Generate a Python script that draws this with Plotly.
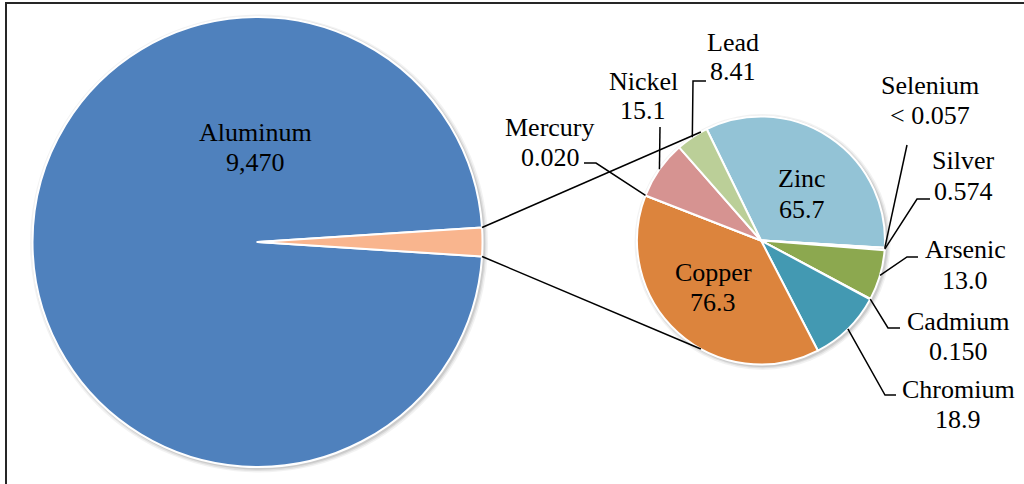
import math
import plotly.graph_objects as go

# ---- data -------------------------------------------------------------
aluminum_name = "Aluminum"
aluminum_value = 9470
aluminum_text = "9,470"

# secondary pie, listed clockwise starting at Zinc
metals = ["Zinc", "Selenium", "Silver", "Arsenic", "Cadmium",
          "Chromium", "Copper", "Mercury", "Nickel", "Lead"]
amounts = [65.7, 0.057, 0.574, 13.0, 0.150, 18.9, 76.3, 0.020, 15.1, 8.41]
amount_text = ["65.7", "< 0.057", "0.574", "13.0", "0.150",
               "18.9", "76.3", "0.020", "15.1", "8.41"]

# ---- style ------------------------------------------------------------
W, H = 1024, 484
FONT = "Liberation Serif"
FS = 26
LINE_GAP = 30

main_colors = ["#4F81BD", "#F9B58E"]
sub_colors = ["#93C3D6", "#8064A2", "#A5A5A5", "#8CA84F", "#C0504D",
              "#4399B2", "#DC843D", "#F79646", "#D69391", "#BBCF98"]

MAIN_C = (257.5, 242.0, 225.0)   # centre x, centre y, radius (px)
SUB_C = (761.0, 240.5, 124.0)
SUB_ROT = -26                     # where Zinc starts, deg clockwise from 12
CONNECT_ANG = 119                 # where connectors touch the small pie

# label centres (x, y of first line) in px
label_pos = {
    "Aluminum": (255, 132), "Zinc": (802, 179), "Copper": (713, 272),
    "Lead": (733, 42), "Nickel": (643, 81), "Mercury": (550, 127),
    "Selenium": (930, 86), "Silver": (963, 161), "Arsenic": (965, 250),
    "Cadmium": (958, 321), "Chromium": (958, 389),
}
# leader line elbows (px), the line then runs to the slice edge
leaders = {
    "Lead": [(706, 81), (693, 81)],
    "Nickel": [(660, 127)],
    "Mercury": [(584, 163), (596, 163)],
    "Selenium": [(907, 145)],
    "Silver": [(930, 199), (917, 199)],
    "Arsenic": [(918, 257), (907, 257)],
    "Cadmium": [(900, 328), (888, 328)],
    "Chromium": [(896, 395), (885, 395)],
}


def px(x, y):
    return x / W, 1 - y / H


def domain(c):
    cx, cy, r = c
    return dict(x=[(cx - r) / W, (cx + r) / W],
                y=[1 - (cy + r) / H, 1 - (cy - r) / H])


other_total = sum(amounts)
main_total = aluminum_value + other_total
half = 180 * other_total / main_total
main_rot = 90 + half

fig = go.Figure()

fig.add_trace(go.Pie(
    labels=[aluminum_name, "Other"], values=[aluminum_value, other_total],
    sort=False, direction="clockwise", rotation=main_rot,
    marker=dict(colors=main_colors, line=dict(color="white", width=2)),
    textinfo="none", hoverinfo="label+value", domain=domain(MAIN_C),
    showlegend=False,
))
fig.add_trace(go.Pie(
    labels=metals, values=amounts,
    sort=False, direction="clockwise", rotation=SUB_ROT,
    marker=dict(colors=sub_colors, line=dict(color="white", width=2)),
    textinfo="none", hoverinfo="label+value", domain=domain(SUB_C),
    showlegend=False,
))

shapes = []
# soft shadow behind both pies
for cx, cy, r in (MAIN_C, SUB_C):
    for grow, alpha in ((4, 0.05), (2.5, 0.07), (1.2, 0.09)):
        x0, y0 = px(cx - r - grow + 1.5, cy + r + grow + 1.5)
        x1, y1 = px(cx + r + grow + 1.5, cy - r - grow + 1.5)
        shapes.append(dict(type="circle", xref="paper", yref="paper",
                           x0=x0, y0=y0, x1=x1, y1=y1, layer="below",
                           fillcolor=f"rgba(0,0,0,{alpha})", line_width=0))

# connectors between the two pies
mcx, mcy, mr = MAIN_C
scx, scy, sr = SUB_C
for sgn in (1, -1):
    a = math.radians(half) * sgn
    b = math.radians(CONNECT_ANG) * sgn
    p0 = px(mcx + mr * math.cos(a), mcy - mr * math.sin(a))
    p1 = px(scx + sr * math.cos(b), scy - sr * math.sin(b))
    shapes.append(dict(type="line", xref="paper", yref="paper",
                       x0=p0[0], y0=p0[1], x1=p1[0], y1=p1[1],
                       line=dict(color="black", width=1.5)))

# slice edge points of the small pie
edge = {}
cum = 0
for m, v in zip(metals, amounts):
    mid = math.radians(SUB_ROT + 360 * (cum + v / 2) / other_total)
    edge[m] = (scx + sr * math.sin(mid), scy - sr * math.cos(mid))
    cum += v

for m, pts in leaders.items():
    pts = pts + [edge[m]]
    path = "M " + " L ".join("%.5f,%.5f" % px(x, y) for x, y in pts)
    shapes.append(dict(type="path", xref="paper", yref="paper", path=path,
                       line=dict(color="black", width=1.5)))

# chart frame
fx0, fy0 = px(6, 3)
shapes.append(dict(type="rect", xref="paper", yref="paper",
                   x0=fx0, y0=fy0, x1=1.05, y1=-0.05,
                   line=dict(color="#262626", width=2)))

annotations = []
texts = {aluminum_name: aluminum_text}
texts.update(dict(zip(metals, amount_text)))
for name, (x, y) in label_pos.items():
    for line_text, yy in ((name, y), (texts[name], y + LINE_GAP)):
        ax, ay = px(x, yy)
        annotations.append(dict(x=ax, y=ay, xref="paper", yref="paper",
                                text=line_text, showarrow=False,
                                xanchor="center", yanchor="middle",
                                font=dict(family=FONT, size=FS, color="black")))

fig.update_layout(
    width=W, height=H,
    margin=dict(l=0, r=0, t=0, b=0),
    paper_bgcolor="white", plot_bgcolor="white",
    font=dict(family=FONT),
    shapes=shapes, annotations=annotations,
)
fig.write_html("out.html", config={"displayModeBar": False},
               post_script="document.body.style.margin='0px';")
